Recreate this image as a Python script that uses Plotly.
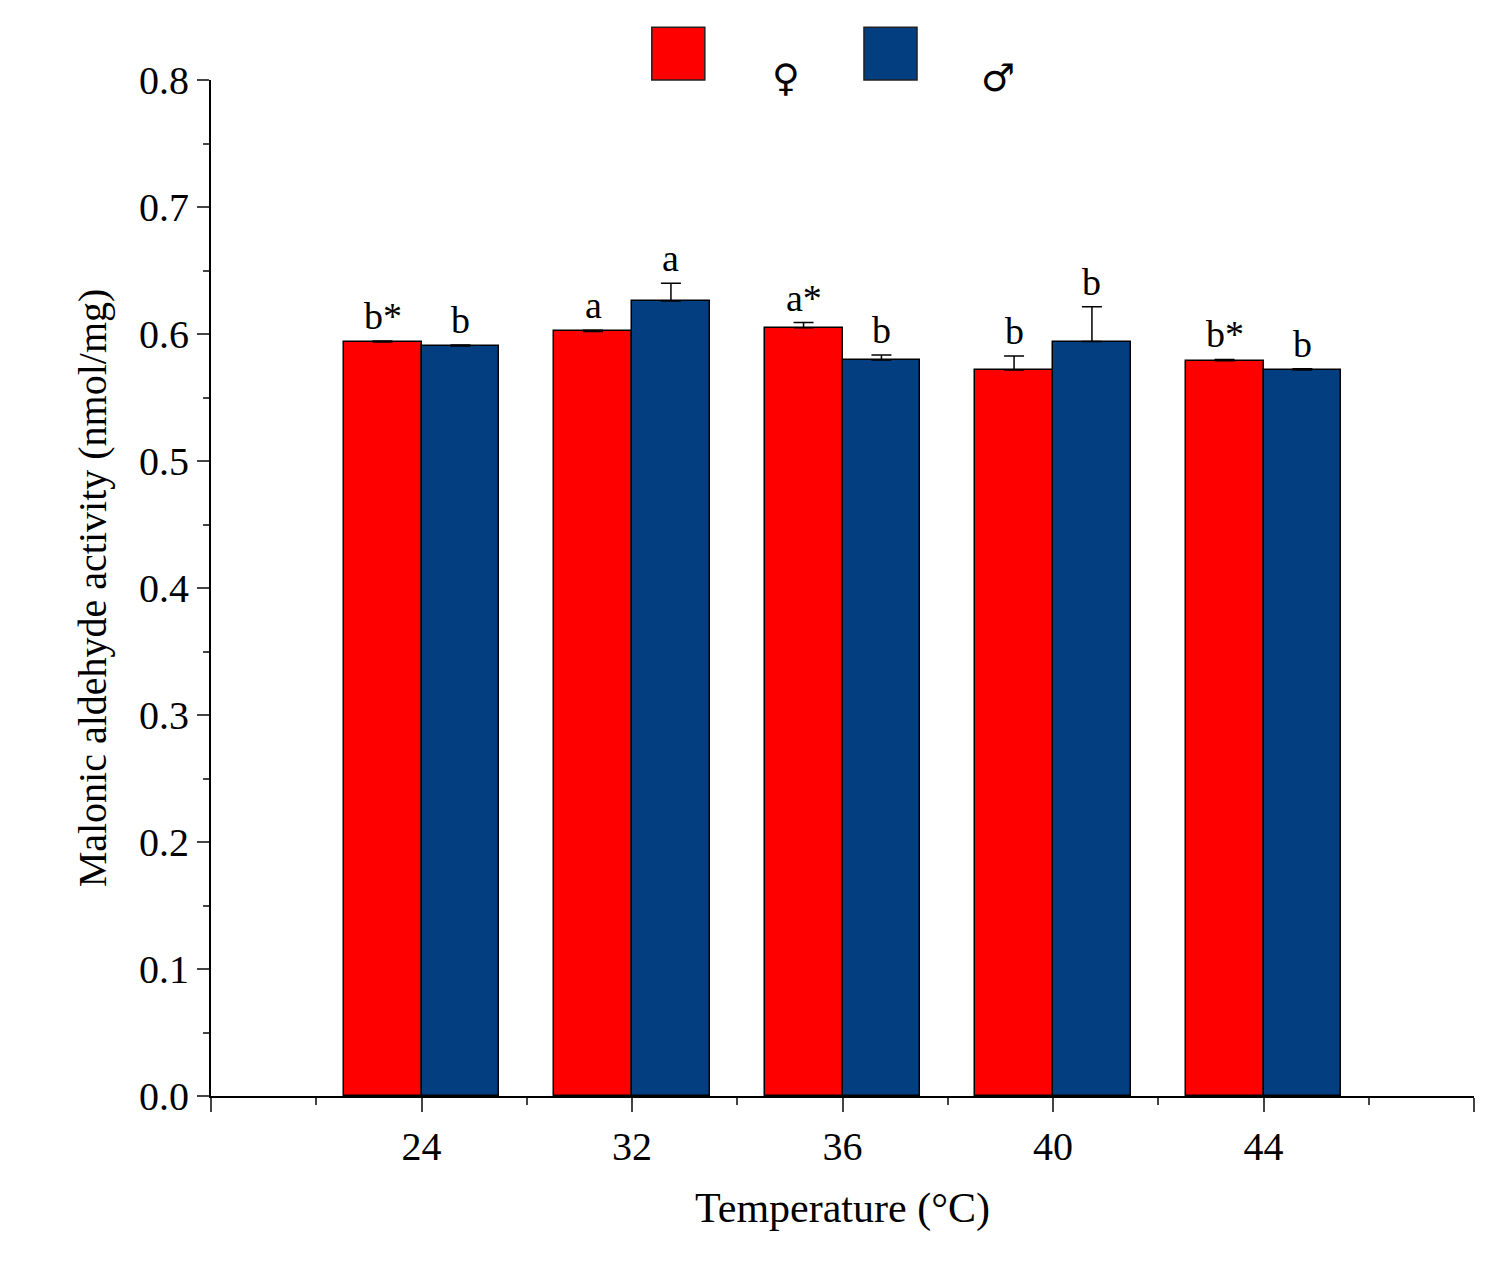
import plotly.graph_objects as go

temps = ["24", "32", "36", "40", "44"]
female = [0.5937, 0.602, 0.605, 0.5717, 0.579]
female_err = [0.0008, 0.001, 0.004, 0.011, 0.001]
male = [0.5906, 0.626, 0.5795, 0.594, 0.5717]
male_err = [0.0008, 0.014, 0.004, 0.0275, 0.001]
female_lbl = ["b*", "a", "a*", "b", "b*"]
male_lbl = ["b", "a", "b", "b", "b"]

RED = "#ff0000"
BLUE = "#033f80"
FONT = "Liberation Serif"
W = 0.37
xs = list(range(len(temps)))

fig = go.Figure()
for vals, errs, col, off, name in [(female, female_err, RED, -W/2, "♀"), (male, male_err, BLUE, W/2, "♂")]:
    fig.add_trace(go.Bar(
        x=[x + off for x in xs], y=vals, width=W, name=name, marker_color=col,
        marker_line=dict(color="black", width=1.5),
        error_y=dict(type="data", array=errs, arrayminus=[0]*len(errs), color="black", thickness=1.5, width=10),
        showlegend=False))

for x, v, e, t in zip(xs, female, female_err, female_lbl):
    fig.add_annotation(x=x - W/2, y=v + e, text=t, showarrow=False, yanchor="bottom", yshift=2,
                       font=dict(family=FONT, size=38, color="black"))
for x, v, e, t in zip(xs, male, male_err, male_lbl):
    fig.add_annotation(x=x + W/2, y=v + e, text=t, showarrow=False, yanchor="bottom", yshift=2,
                       font=dict(family=FONT, size=38, color="black"))

# legend
for x0, col, sym in [(0.349, RED, "♀"), (0.517, BLUE, "♂")]:
    fig.add_shape(type="rect", xref="paper", yref="paper", x0=x0, x1=x0 + 0.042,
                  y0=1.0, y1=1.052, fillcolor=col, line=dict(color="#222", width=1.5))
    fig.add_annotation(xref="paper", yref="paper", x=x0 + 0.106, y=1.026, text=sym, showarrow=False,
                       font=dict(family="DejaVu Sans", size=38, color="black"))

fig.update_layout(
    width=1494, height=1267, plot_bgcolor="white", paper_bgcolor="white",
    margin=dict(l=203, r=28, t=72, b=179), bargap=0,
    font=dict(family=FONT, size=40, color="black"),
    xaxis=dict(range=[-1, 5], tickvals=[-1, 0, 1, 2, 3, 4, 5], ticktext=["", *temps, ""],
               ticks="outside", ticklen=14, tickwidth=2, showline=True, linecolor="black", linewidth=2,
               showgrid=False, zeroline=False,
               minor=dict(tickvals=[-0.5, 0.5, 1.5, 2.5, 3.5, 4.5], ticks="outside", ticklen=7, tickwidth=2),
               title=dict(text="Temperature (°C)", font=dict(size=42), standoff=25)),
    yaxis=dict(range=[0, 0.8], dtick=0.1, tickformat=".1f", ticks="outside", ticklen=12, tickwidth=2,
               showline=True, linecolor="black", linewidth=2, showgrid=False, zeroline=False,
               minor=dict(dtick=0.05, ticks="outside", ticklen=6, tickwidth=2),
               title=dict(text="Malonic aldehyde activity (nmol/mg)", font=dict(size=40), standoff=20)),
)
fig.write_html("out.html")
